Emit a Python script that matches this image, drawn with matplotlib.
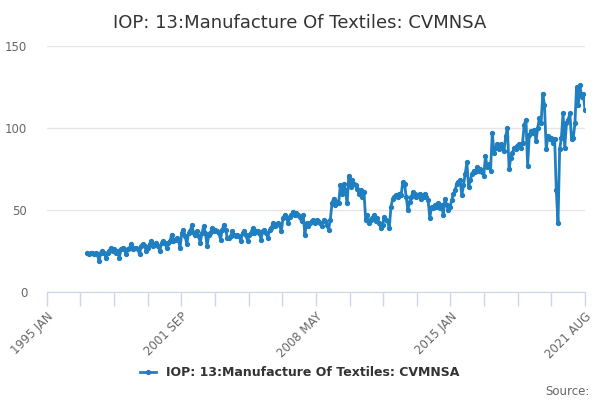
import numpy as np
import pandas as pd
import matplotlib.pyplot as plt
import matplotlib.dates as mdates

# monthly values, 1997 JAN .. 2021 AUG
v1997 = [24, 23, 24, 24, 23, 24, 23, 19, 24, 25, 24, 21]
v1998 = [24, 25, 27, 25, 26, 24, 25, 21, 26, 27, 26, 23]
v1999 = [26, 27, 29, 26, 27, 27, 26, 23, 28, 29, 28, 25]
v2000 = [27, 29, 31, 28, 29, 30, 28, 25, 30, 31, 30, 27]
v2001 = [30, 31, 35, 31, 32, 33, 32, 27, 36, 38, 34, 29]
v2002 = [36, 37, 41, 36, 35, 37, 34, 30, 36, 40, 36, 28]
v2003 = [35, 36, 39, 37, 38, 37, 36, 32, 38, 41, 38, 33]
v2004 = [33, 34, 37, 35, 34, 35, 34, 31, 36, 37, 35, 31]
v2005 = [35, 36, 39, 36, 37, 37, 36, 32, 37, 38, 36, 33]
v2006 = [38, 39, 42, 40, 41, 42, 41, 37, 45, 47, 46, 42]
v2007 = [46, 47, 49, 47, 48, 47, 46, 43, 47, 35, 42, 40]
v2008 = [42, 43, 44, 42, 44, 43, 42, 40, 44, 43, 41, 38]
v2009 = [44, 54, 57, 53, 55, 54, 65, 60, 66, 62, 54, 71]
v2010 = [64, 68, 66, 65, 63, 60, 62, 58, 61, 44, 47, 42]
v2011 = [44, 45, 47, 43, 45, 42, 39, 41, 46, 44, 43, 39]
v2012 = [52, 57, 58, 59, 58, 60, 59, 67, 66, 58, 50, 55]
v2013 = [58, 61, 60, 58, 59, 60, 57, 58, 60, 58, 56, 45]
v2014 = [52, 51, 53, 52, 54, 51, 53, 47, 57, 53, 50, 52]
v2015 = [56, 60, 62, 66, 67, 68, 59, 65, 72, 79, 64, 68]
v2016 = [72, 74, 73, 76, 74, 75, 73, 71, 83, 76, 78, 74]
v2017 = [97, 85, 88, 90, 87, 90, 88, 86, 95, 100, 75, 82]
v2018 = [85, 88, 87, 89, 90, 88, 91, 102, 105, 77, 96, 98]
v2019 = [97, 99, 92, 100, 106, 103, 121, 114, 87, 95, 93, 94]
v2020 = [91, 93, 62, 42, 87, 94, 109, 88, 103, 105, 109, 93]
v2021 = [94, 103, 125, 114, 126, 119, 121, 111]

values = (v1997 + v1998 + v1999 + v2000 + v2001 + v2002 + v2003 + v2004 + v2005
          + v2006 + v2007 + v2008 + v2009 + v2010 + v2011 + v2012 + v2013 + v2014
          + v2015 + v2016 + v2017 + v2018 + v2019 + v2020 + v2021)
dates = pd.date_range('1997-01-01', periods=len(values), freq='MS')

tick_labels = ['1995 JAN', '2001 SEP', '2008 MAY', '2015 JAN', '2021 AUG']
title = 'IOP: 13:Manufacture Of Textiles: CVMNSA'

blue = '#1f7fc0'
grid = '#e6e6e6'
axcol = '#ccd6eb'

fig = plt.figure(figsize=(6, 4), dpi=100)
ax = fig.add_axes([0.078, 0.27, 0.897, 0.615])

ax.plot(dates, values, color=blue, lw=2, marker='o', ms=2.8, label=title)

x0 = mdates.date2num(pd.Timestamp('1995-01-01'))
x1 = mdates.date2num(pd.Timestamp('2021-08-01'))
ax.set_xlim(x0, x1)
ax.set_ylim(0, 150)
ax.set_yticks([0, 50, 100, 150])
ax.yaxis.grid(True, color=grid, lw=1)
ax.set_axisbelow(True)

all_ticks = np.linspace(x0, x1, 17)
ax.set_xticks(all_ticks[::4])
ax.set_xticklabels(tick_labels, rotation=45, ha='right', rotation_mode='anchor')
ax.set_xticks(all_ticks, minor=True)
ax.tick_params(axis='x', which='both', length=10, color=axcol, width=1,
               labelsize=8.5, labelcolor='#666666', pad=3)
ax.tick_params(axis='y', length=0, labelsize=8.5, labelcolor='#666666', pad=14)

for s in ['top', 'right', 'left']:
    ax.spines[s].set_visible(False)
ax.spines['bottom'].set_color(axcol)

fig.suptitle(title, y=0.965, fontsize=13, color='#333333')

leg = fig.legend(loc='center', bbox_to_anchor=(0.5, 0.068), frameon=False,
                 handlelength=1.3, prop={'weight': 'bold', 'size': 9})
for t in leg.get_texts():
    t.set_color('#333333')

fig.text(0.983, 0.022, 'Source:', ha='right', va='center', fontsize=8.5, color='#666666')

fig.savefig('out.png', dpi=100)
